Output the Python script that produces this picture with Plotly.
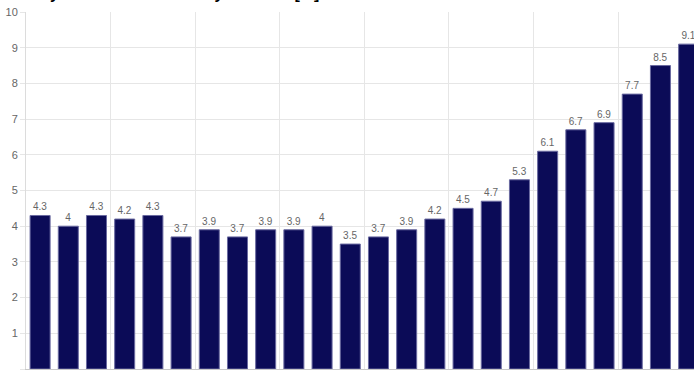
import plotly.graph_objects as go

categories = [str(y) for y in range(1998, 2022)]
values = [4.3, 4, 4.3, 4.2, 4.3, 3.7, 3.9, 3.7, 3.9, 3.9, 4, 3.5,
          3.7, 3.9, 4.2, 4.5, 4.7, 5.3, 6.1, 6.7, 6.9, 7.7, 8.5, 9.1]
value_labels = [f"{v:g}" for v in values]
title_text = "Weekly interest rate in EU by member [%]"

fig = go.Figure()
fig.add_trace(go.Bar(
    x=categories, y=values,
    text=value_labels, textposition="outside",
    textfont=dict(family="Liberation Sans, Arial, sans-serif", size=10, color="#666666"),
    marker=dict(color="#0b0b57", line=dict(color="#6a6aa0", width=1)),
    cliponaxis=False,
))

fig.add_annotation(
    text="<b>" + title_text + "</b>", xref="paper", yref="paper", x=0, y=1,
    xanchor="left", yanchor="bottom", xshift=-24, yshift=8,
    showarrow=False,
    font=dict(family="Liberation Sans, Arial, sans-serif", size=16, color="#000000"),
)

fig.update_layout(
    width=694, height=371,
    margin=dict(l=26, r=0, t=12, b=2),
    paper_bgcolor="white", plot_bgcolor="white",
    bargap=0.29, showlegend=False,
    font=dict(family="Liberation Sans, Arial, sans-serif", size=11, color="#666666"),
)
fig.update_xaxes(
    type="category", range=[-0.5, 23.19],
    tickson="boundaries", tickmode="linear", tick0=0, dtick=3,
    showgrid=True, gridcolor="#e6e6e6", gridwidth=1,
    showticklabels=False, ticks="",
    showline=True, linecolor="#c8c8c8", linewidth=1,
)
fig.update_yaxes(
    range=[0, 10], tickmode="linear", tick0=0, dtick=1,
    showgrid=True, gridcolor="#e6e6e6", gridwidth=1,
    ticks="outside", ticklen=5, tickcolor="#e6e6e6",
    showline=True, linecolor="#dcdcdc", linewidth=1,
    zeroline=False,
    tickfont=dict(family="Liberation Sans, Arial, sans-serif", size=11, color="#666666"),
)

fig.write_html("out.html")
